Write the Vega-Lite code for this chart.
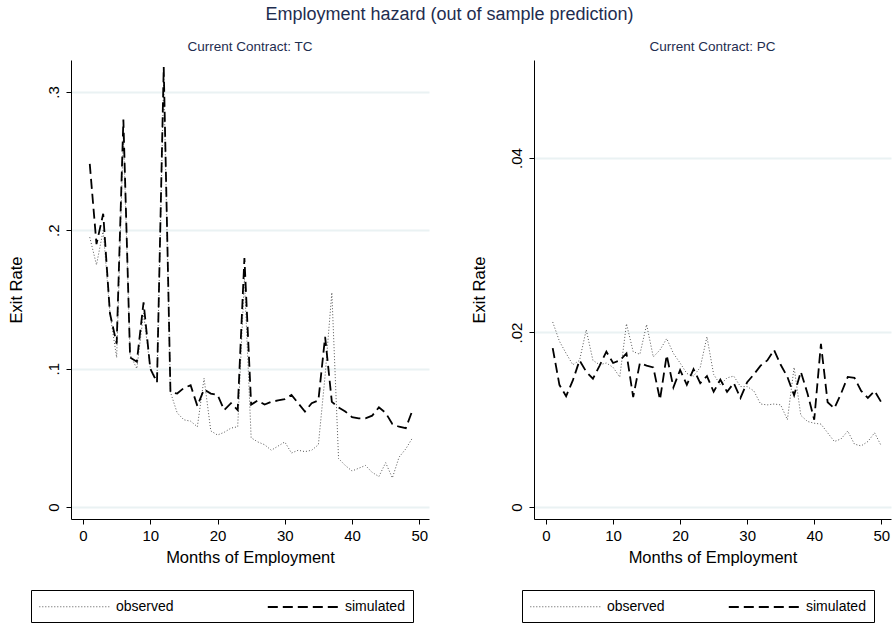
{
  "$schema": "https://vega.github.io/schema/vega-lite/v6.json",
  "padding": {"left": 8, "top": 5, "right": 2, "bottom": 4},
  "background": "white",
  "title": {"text": "Employment hazard (out of sample prediction)", "anchor": "middle", "fontSize": 18, "fontWeight": "normal", "font": "Liberation Sans", "color": "#1e2d4f", "offset": 16},
  "datasets": {
    "tc": [
      {"month":1,"series":"observed","rate":0.195},{"month":2,"series":"observed","rate":0.175},{"month":3,"series":"observed","rate":0.2},{"month":4,"series":"observed","rate":0.14},{"month":5,"series":"observed","rate":0.108},{"month":6,"series":"observed","rate":0.27},{"month":7,"series":"observed","rate":0.11},{"month":8,"series":"observed","rate":0.1},{"month":9,"series":"observed","rate":0.14},{"month":10,"series":"observed","rate":0.1},
      {"month":11,"series":"observed","rate":0.092},{"month":12,"series":"observed","rate":0.31},{"month":13,"series":"observed","rate":0.083},{"month":14,"series":"observed","rate":0.068},{"month":15,"series":"observed","rate":0.063},{"month":16,"series":"observed","rate":0.062},{"month":17,"series":"observed","rate":0.058},{"month":18,"series":"observed","rate":0.093},{"month":19,"series":"observed","rate":0.055},{"month":20,"series":"observed","rate":0.052},
      {"month":21,"series":"observed","rate":0.054},{"month":22,"series":"observed","rate":0.057},{"month":23,"series":"observed","rate":0.058},{"month":24,"series":"observed","rate":0.165},{"month":25,"series":"observed","rate":0.05},{"month":26,"series":"observed","rate":0.047},{"month":27,"series":"observed","rate":0.045},{"month":28,"series":"observed","rate":0.041},{"month":29,"series":"observed","rate":0.044},{"month":30,"series":"observed","rate":0.047},
      {"month":31,"series":"observed","rate":0.039},{"month":32,"series":"observed","rate":0.041},{"month":33,"series":"observed","rate":0.04},{"month":34,"series":"observed","rate":0.041},{"month":35,"series":"observed","rate":0.045},{"month":36,"series":"observed","rate":0.095},{"month":37,"series":"observed","rate":0.155},{"month":38,"series":"observed","rate":0.035},{"month":39,"series":"observed","rate":0.03},{"month":40,"series":"observed","rate":0.026},
      {"month":41,"series":"observed","rate":0.028},{"month":42,"series":"observed","rate":0.03},{"month":43,"series":"observed","rate":0.025},{"month":44,"series":"observed","rate":0.022},{"month":45,"series":"observed","rate":0.032},{"month":46,"series":"observed","rate":0.021},{"month":47,"series":"observed","rate":0.036},{"month":48,"series":"observed","rate":0.042},{"month":49,"series":"observed","rate":0.05},
      {"month":1,"series":"simulated","rate":0.248},{"month":2,"series":"simulated","rate":0.19},{"month":3,"series":"simulated","rate":0.212},{"month":4,"series":"simulated","rate":0.14},{"month":5,"series":"simulated","rate":0.118},{"month":6,"series":"simulated","rate":0.28},{"month":7,"series":"simulated","rate":0.108},{"month":8,"series":"simulated","rate":0.105},{"month":9,"series":"simulated","rate":0.148},{"month":10,"series":"simulated","rate":0.1},
      {"month":11,"series":"simulated","rate":0.09},{"month":12,"series":"simulated","rate":0.318},{"month":13,"series":"simulated","rate":0.083},{"month":14,"series":"simulated","rate":0.082},{"month":15,"series":"simulated","rate":0.086},{"month":16,"series":"simulated","rate":0.088},{"month":17,"series":"simulated","rate":0.073},{"month":18,"series":"simulated","rate":0.085},{"month":19,"series":"simulated","rate":0.082},{"month":20,"series":"simulated","rate":0.081},
      {"month":21,"series":"simulated","rate":0.07},{"month":22,"series":"simulated","rate":0.075},{"month":23,"series":"simulated","rate":0.07},{"month":24,"series":"simulated","rate":0.18},{"month":25,"series":"simulated","rate":0.074},{"month":26,"series":"simulated","rate":0.077},{"month":27,"series":"simulated","rate":0.074},{"month":28,"series":"simulated","rate":0.076},{"month":29,"series":"simulated","rate":0.077},{"month":30,"series":"simulated","rate":0.078},
      {"month":31,"series":"simulated","rate":0.081},{"month":32,"series":"simulated","rate":0.075},{"month":33,"series":"simulated","rate":0.069},{"month":34,"series":"simulated","rate":0.075},{"month":35,"series":"simulated","rate":0.077},{"month":36,"series":"simulated","rate":0.123},{"month":37,"series":"simulated","rate":0.076},{"month":38,"series":"simulated","rate":0.072},{"month":39,"series":"simulated","rate":0.069},{"month":40,"series":"simulated","rate":0.065},
      {"month":41,"series":"simulated","rate":0.064},{"month":42,"series":"simulated","rate":0.064},{"month":43,"series":"simulated","rate":0.066},{"month":44,"series":"simulated","rate":0.072},{"month":45,"series":"simulated","rate":0.068},{"month":46,"series":"simulated","rate":0.06},{"month":47,"series":"simulated","rate":0.058},{"month":48,"series":"simulated","rate":0.057},{"month":49,"series":"simulated","rate":0.07}
    ],
    "pc": [
      {"month":1,"series":"observed","rate":0.0212},{"month":2,"series":"observed","rate":0.019},{"month":3,"series":"observed","rate":0.0176},{"month":4,"series":"observed","rate":0.0163},{"month":5,"series":"observed","rate":0.0168},{"month":6,"series":"observed","rate":0.0203},{"month":7,"series":"observed","rate":0.0168},{"month":8,"series":"observed","rate":0.0163},{"month":9,"series":"observed","rate":0.0165},{"month":10,"series":"observed","rate":0.016},
      {"month":11,"series":"observed","rate":0.0149},{"month":12,"series":"observed","rate":0.021},{"month":13,"series":"observed","rate":0.0178},{"month":14,"series":"observed","rate":0.0175},{"month":15,"series":"observed","rate":0.0209},{"month":16,"series":"observed","rate":0.0172},{"month":17,"series":"observed","rate":0.018},{"month":18,"series":"observed","rate":0.0193},{"month":19,"series":"observed","rate":0.0176},{"month":20,"series":"observed","rate":0.0165},
      {"month":21,"series":"observed","rate":0.0153},{"month":22,"series":"observed","rate":0.015},{"month":23,"series":"observed","rate":0.016},{"month":24,"series":"observed","rate":0.0195},{"month":25,"series":"observed","rate":0.0152},{"month":26,"series":"observed","rate":0.014},{"month":27,"series":"observed","rate":0.0148},{"month":28,"series":"observed","rate":0.015},{"month":29,"series":"observed","rate":0.0138},{"month":30,"series":"observed","rate":0.0138},
      {"month":31,"series":"observed","rate":0.0133},{"month":32,"series":"observed","rate":0.0118},{"month":33,"series":"observed","rate":0.0117},{"month":34,"series":"observed","rate":0.0118},{"month":35,"series":"observed","rate":0.0117},{"month":36,"series":"observed","rate":0.01},{"month":37,"series":"observed","rate":0.016},{"month":38,"series":"observed","rate":0.0105},{"month":39,"series":"observed","rate":0.0098},{"month":40,"series":"observed","rate":0.0096},
      {"month":41,"series":"observed","rate":0.0095},{"month":42,"series":"observed","rate":0.0085},{"month":43,"series":"observed","rate":0.0075},{"month":44,"series":"observed","rate":0.0078},{"month":45,"series":"observed","rate":0.0087},{"month":46,"series":"observed","rate":0.0072},{"month":47,"series":"observed","rate":0.007},{"month":48,"series":"observed","rate":0.0075},{"month":49,"series":"observed","rate":0.0085},{"month":50,"series":"observed","rate":0.007},
      {"month":1,"series":"simulated","rate":0.0182},{"month":2,"series":"simulated","rate":0.014},{"month":3,"series":"simulated","rate":0.0127},{"month":4,"series":"simulated","rate":0.0145},{"month":5,"series":"simulated","rate":0.0168},{"month":6,"series":"simulated","rate":0.0155},{"month":7,"series":"simulated","rate":0.0147},{"month":8,"series":"simulated","rate":0.0162},{"month":9,"series":"simulated","rate":0.0178},{"month":10,"series":"simulated","rate":0.0165},
      {"month":11,"series":"simulated","rate":0.0168},{"month":12,"series":"simulated","rate":0.0176},{"month":13,"series":"simulated","rate":0.0126},{"month":14,"series":"simulated","rate":0.0165},{"month":15,"series":"simulated","rate":0.0162},{"month":16,"series":"simulated","rate":0.016},{"month":17,"series":"simulated","rate":0.0123},{"month":18,"series":"simulated","rate":0.0174},{"month":19,"series":"simulated","rate":0.0137},{"month":20,"series":"simulated","rate":0.0157},
      {"month":21,"series":"simulated","rate":0.014},{"month":22,"series":"simulated","rate":0.0158},{"month":23,"series":"simulated","rate":0.0142},{"month":24,"series":"simulated","rate":0.015},{"month":25,"series":"simulated","rate":0.0132},{"month":26,"series":"simulated","rate":0.0146},{"month":27,"series":"simulated","rate":0.0132},{"month":28,"series":"simulated","rate":0.0142},{"month":29,"series":"simulated","rate":0.0125},{"month":30,"series":"simulated","rate":0.0143},
      {"month":31,"series":"simulated","rate":0.0152},{"month":32,"series":"simulated","rate":0.0162},{"month":33,"series":"simulated","rate":0.0168},{"month":34,"series":"simulated","rate":0.018},{"month":35,"series":"simulated","rate":0.0163},{"month":36,"series":"simulated","rate":0.0149},{"month":37,"series":"simulated","rate":0.0128},{"month":38,"series":"simulated","rate":0.0155},{"month":39,"series":"simulated","rate":0.013},{"month":40,"series":"simulated","rate":0.01},
      {"month":41,"series":"simulated","rate":0.0187},{"month":42,"series":"simulated","rate":0.012},{"month":43,"series":"simulated","rate":0.0113},{"month":44,"series":"simulated","rate":0.013},{"month":45,"series":"simulated","rate":0.0149},{"month":46,"series":"simulated","rate":0.0148},{"month":47,"series":"simulated","rate":0.0133},{"month":48,"series":"simulated","rate":0.0125},{"month":49,"series":"simulated","rate":0.0133},{"month":50,"series":"simulated","rate":0.012}
    ]
  },
  "hconcat": [
    {
      "data": {"name": "tc"},
      "width": 358,
      "height": 459,
      "title": {"text": "Current Contract: TC"},
      "mark": {"type": "line", "interpolate": "linear"},
      "encoding": {
        "x": {"field": "month", "type": "quantitative", "title": "Months of Employment",
              "scale": {"domain": [-1.79, 51.45], "nice": false, "zero": false},
              "axis": {"values": [0, 10, 20, 30, 40, 50], "grid": false}},
        "y": {"field": "rate", "type": "quantitative", "title": "Exit Rate",
              "scale": {"domain": [-0.0087, 0.3231], "nice": false, "zero": false},
              "axis": {"values": [0, 0.1, 0.2, 0.3], "format": ".1f", "labelExpr": "datum.value == 0 ? '0' : substring(datum.label, 1)"}},
        "color": {"field": "series", "type": "nominal", "scale": {"domain": ["observed", "simulated"], "range": ["#555555", "#000000"]},
                  "legend": {"orient": "none", "legendX": -40, "legendY": 530, "title": null, "columnPadding": 90}},
        "strokeDash": {"field": "series", "type": "nominal", "scale": {"domain": ["observed", "simulated"], "range": [[1, 2], [10, 5]]},
                  "legend": {"orient": "none", "legendX": -40, "legendY": 530, "title": null, "columnPadding": 90}},
        "strokeWidth": {"field": "series", "type": "nominal", "scale": {"domain": ["observed", "simulated"], "range": [1, 1.8]},
                  "legend": {"orient": "none", "legendX": -40, "legendY": 530, "title": null, "columnPadding": 90}}
      }
    },
    {
      "data": {"name": "pc"},
      "width": 357,
      "height": 459,
      "title": {"text": "Current Contract: PC"},
      "mark": {"type": "line", "interpolate": "linear"},
      "encoding": {
        "x": {"field": "month", "type": "quantitative", "title": "Months of Employment",
              "scale": {"domain": [-1.79, 51.45], "nice": false, "zero": false},
              "axis": {"values": [0, 10, 20, 30, 40, 50], "grid": false}},
        "y": {"field": "rate", "type": "quantitative", "title": "Exit Rate",
              "scale": {"domain": [-0.00138, 0.05123], "nice": false, "zero": false},
              "axis": {"values": [0, 0.02, 0.04], "format": ".2f", "labelExpr": "datum.value == 0 ? '0' : substring(datum.label, 1)"}},
        "color": {"field": "series", "type": "nominal", "scale": {"domain": ["observed", "simulated"], "range": ["#555555", "#000000"]},
                  "legend": {"orient": "none", "legendX": -12, "legendY": 530, "title": null, "columnPadding": 60}},
        "strokeDash": {"field": "series", "type": "nominal", "scale": {"domain": ["observed", "simulated"], "range": [[1, 2], [10, 5]]},
                  "legend": {"orient": "none", "legendX": -12, "legendY": 530, "title": null, "columnPadding": 60}},
        "strokeWidth": {"field": "series", "type": "nominal", "scale": {"domain": ["observed", "simulated"], "range": [1, 1.8]},
                  "legend": {"orient": "none", "legendX": -12, "legendY": 530, "title": null, "columnPadding": 60}}
      }
    }
  ],
  "spacing": 42,
  "resolve": {
    "scale": {"color": "independent", "strokeDash": "independent", "strokeWidth": "independent"},
    "legend": {"color": "independent", "strokeDash": "independent", "strokeWidth": "independent"}
  },
  "config": {
    "font": "Liberation Sans",
    "view": {"stroke": null},
    "title": {"fontSize": 13.5, "fontWeight": "normal", "color": "#1e2d4f", "font": "Liberation Sans", "offset": 7},
    "axis": {
      "domainColor": "#000000", "tickColor": "#000000", "labelColor": "#000000", "titleColor": "#000000",
      "labelFont": "Liberation Sans", "titleFont": "Liberation Sans",
      "labelFontSize": 15, "titleFontSize": 16.5, "titleFontWeight": "normal",
      "tickSize": 5, "domainWidth": 1, "tickWidth": 1,
      "gridColor": "#eaf2f3", "gridWidth": 2, "gridOpacity": 1
    },
    "axisY": {"labelAngle": -90, "labelAlign": "center", "labelBaseline": "bottom", "labelPadding": 5, "titlePadding": 22, "grid": true},
    "axisX": {"labelPadding": 4, "titlePadding": 6},
    "legend": {
      "direction": "horizontal",
      "strokeColor": "#000000",
      "padding": 8,
      "symbolType": "M-4.4,0H4.4",
      "symbolSize": 256,
      "symbolOffset": 27,
      "labelFontSize": 14,
      "labelFont": "Liberation Sans",
      "labelColor": "#000000",
      "labelOffset": 33
    }
  }
}
